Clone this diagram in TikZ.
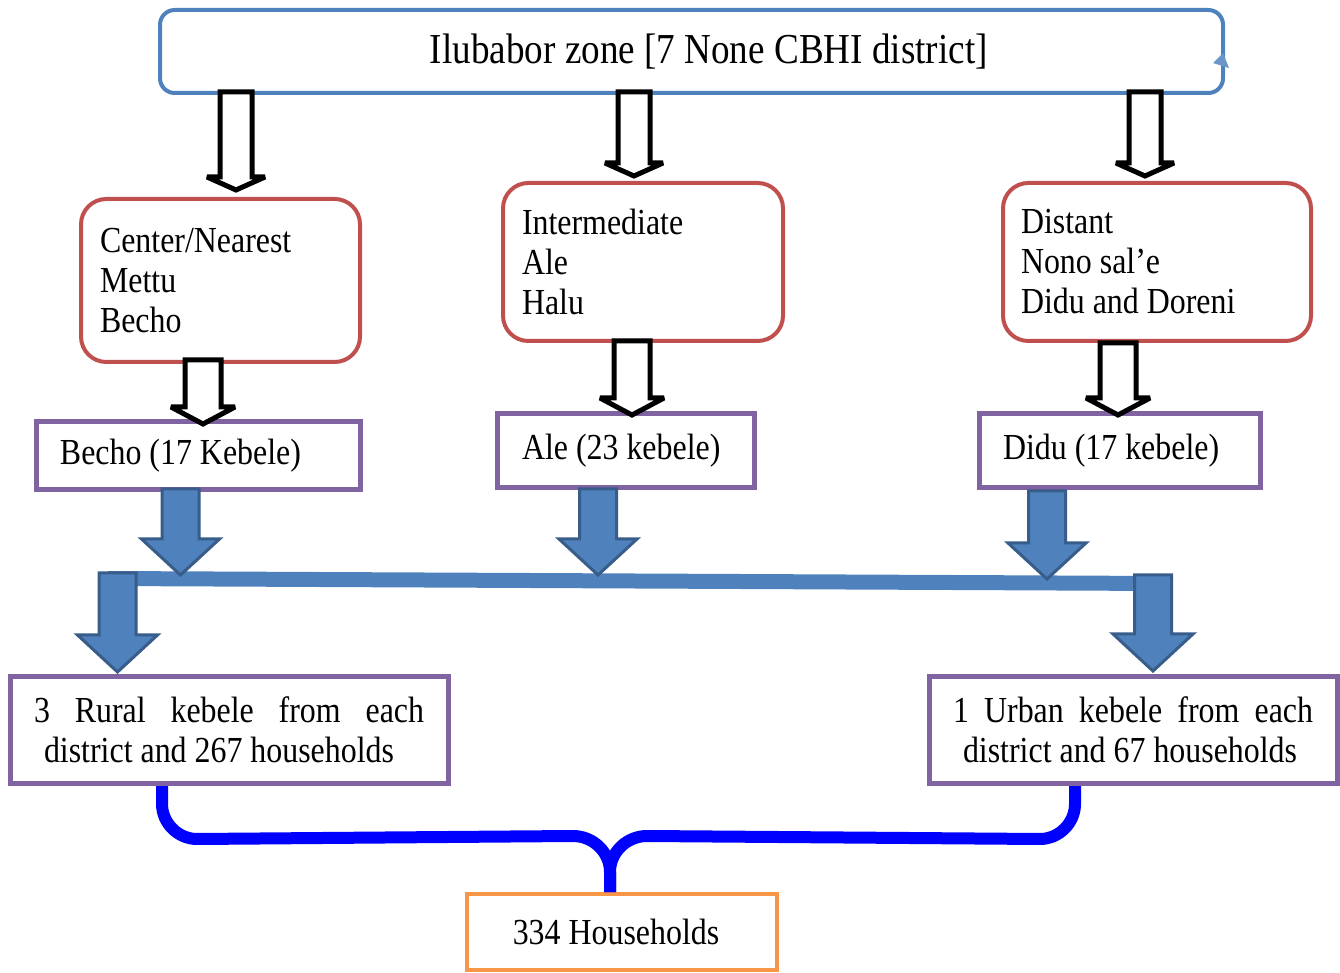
\documentclass[tikz,border=0pt]{standalone}
\usepackage{fontspec}
\setmainfont{Liberation Serif}[FakeStretch=0.87]
\usetikzlibrary{calc}
\definecolor{topblue}{HTML}{4F81BD}
\definecolor{boxred}{HTML}{C0504D}
\definecolor{boxpurple}{HTML}{8064A2}
\definecolor{boxorange}{HTML}{F79646}
\definecolor{arrowblue}{HTML}{4F81BD}
\definecolor{arrowborder}{HTML}{385D8A}
\definecolor{tipblue}{HTML}{6A96C8}
\newcommand{\blockarrow}[7][]{%
  \draw[#1] ({#2-#5},#3) -- ({#2-#5},{#4-#7}) -- ({#2-#6},{#4-#7}) -- (#2,#4)
  -- ({#2+#6},{#4-#7}) -- ({#2+#5},{#4-#7}) -- ({#2+#5},#3) -- cycle;}
\begin{document}
\begin{tikzpicture}[x=0.75pt,y=-0.75pt,
  font=\fontsize{27.5}{30}\selectfont,
  topbox/.style={draw=topblue, line width=3pt, rounded corners=11pt,
    minimum width=797.25pt, minimum height=62.25pt, inner sep=0pt,
    font=\fontsize{32}{36}\selectfont},
  redbox/.style={draw=boxred, line width=3pt, rounded corners=19pt,
    align=flush left, inner ysep=0pt},
  purplebox/.style={draw=boxpurple, line width=3.75pt, align=flush left, inner ysep=0pt},
  orangebox/.style={draw=boxorange, line width=3pt},
  hollow/.style={draw=black, fill=white, line width=3.75pt, miter limit=2},
  bluearrow/.style={fill=arrowblue, draw=arrowborder, line width=2.25pt, miter limit=3},
  barline/.style={draw=arrowblue, line width=11.25pt},
  brace/.style={draw=blue, line width=9pt}]
\useasboundingbox (0,0) rectangle (1340,973);

% boxes
\node[topbox] (top) at (691.5,51.5) {\hspace*{26pt}Ilubabor zone [7 None CBHI district]};
\fill[tipblue] (1213,63) -- (1229,68) -- (1223,53) -- cycle;

\node[redbox, minimum width=209.25pt, minimum height=122.25pt, inner xsep=14.25pt,
  text width=180.75pt] (near) at (220.5,280.5) {Center/Nearest\\Mettu\\Becho};
\node[redbox, minimum width=210pt, minimum height=118.5pt, inner xsep=14.25pt,
  text width=181.5pt] (inter) at (643,262) {Intermediate\\Ale\\Halu};
\node[redbox, minimum width=231pt, minimum height=118.5pt, inner xsep=13.5pt,
  text width=204pt] (dist) at (1157,262) {Distant\\Nono sal’e\\Didu and Doreni};

\node[purplebox, minimum width=243pt, minimum height=51pt, inner xsep=18pt,
  text width=207pt] (becho) at (198,456) {Becho (17 Kebele)};
\node[purplebox, minimum width=192.75pt, minimum height=55.5pt, inner xsep=18.75pt,
  text width=155.25pt] (ale) at (625.5,451) {Ale (23 kebele)};
\node[purplebox, minimum width=210.75pt, minimum height=55.5pt, inner xsep=18pt,
  text width=174.75pt] (didu) at (1119.5,451) {Didu (17 kebele)};

\node[purplebox, minimum width=328.5pt, minimum height=80.25pt, inner xsep=18pt,
  text width=292.5pt] (rural) at (229,730)
  {\makebox[292.5pt]{3\hfill Rural\hfill kebele\hfill from\hfill each}\\\hspace*{7.5pt}district and 267 households};
\node[purplebox, minimum width=306pt, minimum height=80.25pt, inner xsep=18pt,
  text width=270pt] (urban) at (1133,730)
  {\makebox[270pt]{1\hfill Urban\hfill kebele\hfill from\hfill each}\\\hspace*{7.5pt}district and 67 households};

\node[orangebox, minimum width=232.5pt, minimum height=57pt] (total) at (622,932)
  {\hspace*{-9pt}334 Households};

% hollow arrows
\blockarrow[hollow]{236}{92}{190}{16}{29}{13}
\blockarrow[hollow]{634}{92}{176}{16}{29}{13}
\blockarrow[hollow]{1145}{92}{176}{16}{29}{13}
\blockarrow[hollow]{203}{360}{424}{18}{32}{17}
\blockarrow[hollow]{632}{341}{415}{18}{32}{17}
\blockarrow[hollow]{1118}{343}{415}{18}{32}{17}

% blue bar and arrows
\draw[barline] (108,578.5) -- (1162,583.5);
\blockarrow[bluearrow]{180.5}{489}{575}{18.5}{39}{36}
\blockarrow[bluearrow]{598}{489}{575}{18.5}{39}{36}
\blockarrow[bluearrow]{1047}{491}{579}{18.5}{39}{36}
\blockarrow[bluearrow]{117.5}{573}{672}{18.5}{40}{37}
\blockarrow[bluearrow]{1153}{575}{671}{18.5}{40}{37}

% brace
\coordinate (bl) at ([xshift=-50.25pt]rural.south);
\coordinate (br) at ([xshift=-43.5pt]urban.south);
\coordinate (bj) at ([xshift=-9pt]total.north);
\draw[brace] (bl) -- ($(bl)+(0,18)$) .. controls ($(bl)+(0,37)$) and ($(bl)+(16,53)$) .. ($(bl)+(35,53)$)
  -- ($(bj)+(-37,-56)$) .. controls ($(bj)+(-17,-56)$) and ($(bj)+(0,-40)$) .. ($(bj)+(0,-20)$) -- (bj);
\draw[brace] (br) -- ($(br)+(0,18)$) .. controls ($(br)+(0,37)$) and ($(br)+(-16,53)$) .. ($(br)+(-35,53)$)
  -- ($(bj)+(37,-56)$) .. controls ($(bj)+(17,-56)$) and ($(bj)+(0,-40)$) .. ($(bj)+(0,-20)$) -- (bj);
\end{tikzpicture}
\end{document}
